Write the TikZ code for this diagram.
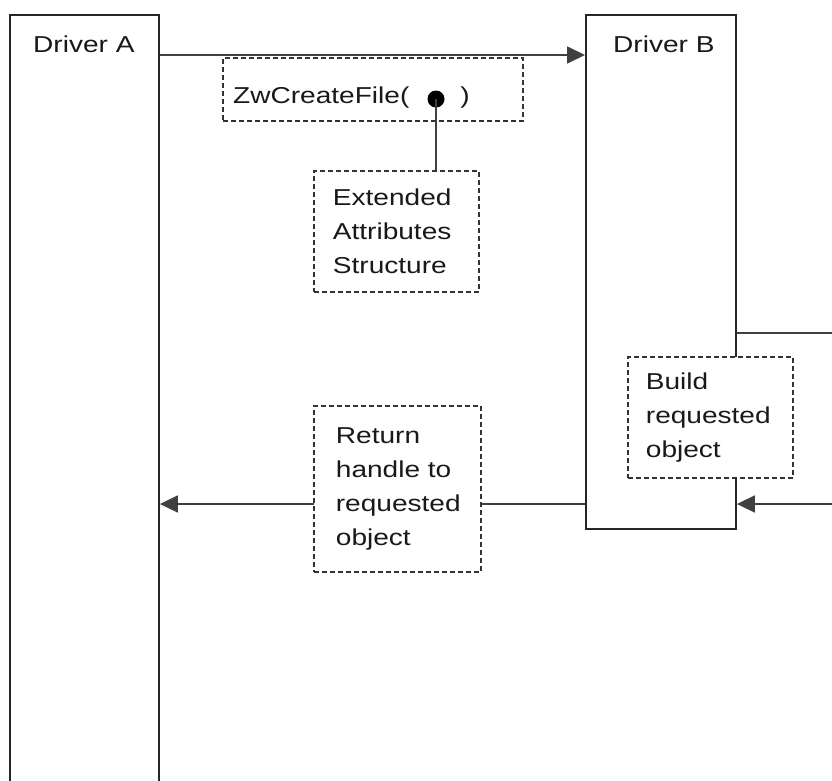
\documentclass[tikz,border=0pt]{standalone}
\usepackage{fontspec}
\setmainfont{Liberation Sans}[FakeStretch=1.22]
\usetikzlibrary{arrows.meta}
\begin{document}
\begin{tikzpicture}[x=1pt,y=-1pt,
  every node/.style={font=\fontsize{23}{34}\selectfont, text=black!90},
  solidbox/.style={draw=black!85, line width=1.9pt, rectangle, inner sep=0pt, anchor=north west},
  dashbox/.style={draw=black!80, line width=1.8pt, dash pattern=on 5pt off 3pt, fill=white, rectangle, anchor=north west, align=left, inner ysep=0pt},
  conn/.style={draw=black!75, line width=1.7pt},
  arr/.style={conn, -{Triangle[length=18pt,width=17pt]}},
  lbl/.style={anchor=base west, inner sep=0pt}]
\clip (0,0) rectangle (832,780);
\fill[white] (0,0) rectangle (832,780);
% main boxes
\node[solidbox, minimum width=149pt, minimum height=800pt] (A) at (9,14) {};
\node[solidbox, minimum width=150pt, minimum height=514pt] (B) at (585,14) {};
\node[lbl] (Atxt) at (33,52) {Driver A};
\node[lbl] (Btxt) at (613,52) {Driver B};
% helper coordinates
\coordinate (ytop) at (0,55);
\coordinate (yret) at (0,504);
\coordinate (out) at (832,333);
\coordinate (in) at (832,504);
% connectors
\draw[arr] (A.east |- ytop) -- (B.west |- ytop);
\draw[conn] (B.west |- yret) -- (313,504) coordinate (retE);
\draw[arr] (313,504) -- (A.east |- yret);
\draw[conn] (B.east |- out) -- (out);
\draw[arr] (in) -- (B.east |- in);
% dashed boxes
\node[dashbox, minimum width=300pt, minimum height=63pt] (zw) at (222,57) {};
\node[lbl] (zwt) at (233,103) {ZwCreateFile(\hspace{51pt})};
\node[dashbox, minimum width=165pt, minimum height=121pt, inner xsep=19pt, text width=127pt] (ext) at (313,170) {Extended\\Attributes\\Structure};
\node[dashbox, minimum width=167pt, minimum height=166pt, inner xsep=22pt, text width=123pt] (ret) at (313,405) {Return\\handle to\\requested\\object};
\node[dashbox, minimum width=165pt, minimum height=121pt, inner xsep=18pt, text width=129pt] (build) at (627,356) {Build\\requested\\object};
% pointer dot
\node[circle, fill=black, inner sep=0pt, minimum size=17pt] (dot) at (436,99) {};
\draw[conn] (dot.center) -- (dot.center |- ext.north);
\end{tikzpicture}
\end{document}
